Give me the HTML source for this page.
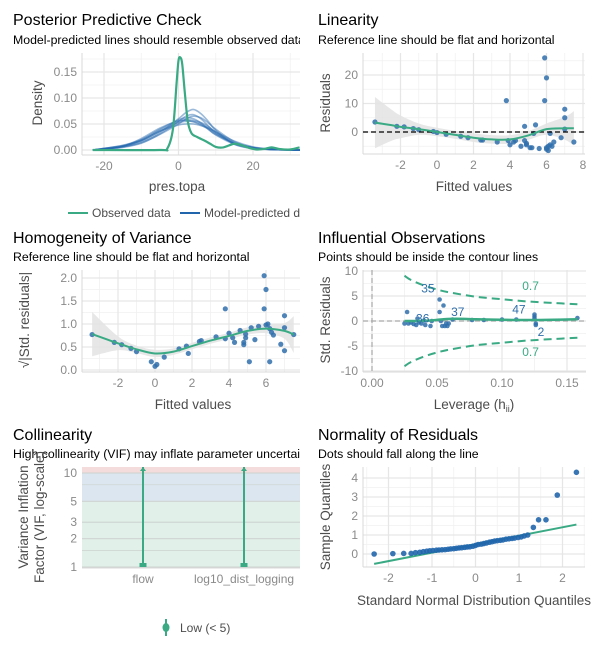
<!DOCTYPE html>
<html><head><meta charset="utf-8">
<style>
html,body{margin:0;padding:0;background:#fff;}
svg{display:block;font-family:"Liberation Sans",Arial,sans-serif;}
.t{font-size:16px;fill:#000;}
.st{font-size:12.3px;fill:#000;}
.tk{font-size:12px;fill:#8a8a8a;}
.at{font-size:13.5px;fill:#4d4d4d;}
.lg{font-size:12px;fill:#4d4d4d;}
</style></head>
<body>
<svg id="root" width="600" height="646" viewBox="0 0 600 646">
<defs>
<clipPath id="cl1"><rect x="0" y="0" width="300" height="646"/></clipPath>
<clipPath id="cp1"><rect x="82" y="53" width="218" height="102"/></clipPath>
<clipPath id="cp2"><rect x="363" y="53" width="222" height="101"/></clipPath>
<clipPath id="cp3"><rect x="82" y="270" width="218" height="102"/></clipPath>
<clipPath id="cp4"><rect x="363" y="270" width="223" height="102"/></clipPath>
<clipPath id="cp5"><rect x="82" y="467" width="218" height="101"/></clipPath>
<clipPath id="cp6"><rect x="363" y="467" width="222" height="100"/></clipPath>
</defs>
<g clip-path="url(#cl1)">
<text class="t" x="13" y="25">Posterior Predictive Check</text>
<text class="st" x="13" y="44">Model-predicted lines should resemble observed data</text>
<text class="t" x="13" y="243">Homogeneity of Variance</text>
<text class="st" x="13" y="261">Reference line should be flat and horizontal</text>
<text class="t" x="13" y="440">Collinearity</text>
<text class="st" x="13" y="458">High collinearity (VIF) may inflate parameter uncertainty</text>
<line x1="68" y1="213" x2="88" y2="213" stroke="#3aaa85" stroke-width="2"/>
<text class="lg" x="92" y="217">Observed data</text>
<line x1="180" y1="213" x2="200" y2="213" stroke="#2166ac" stroke-width="2"/>
<text class="lg" x="204" y="217">Model-predicted data</text>
</g>
<text class="t" x="318" y="25">Linearity</text>
<text class="st" x="318" y="44">Reference line should be flat and horizontal</text>
<text class="t" x="318" y="243">Influential Observations</text>
<text class="st" x="318" y="261">Points should be inside the contour lines</text>
<text class="t" x="318" y="440">Normality of Residuals</text>
<text class="st" x="318" y="458">Dots should fall along the line</text>
<text class="at" x="177" y="191" text-anchor="middle">pres.topa</text>
<text class="at" transform="translate(42,103) rotate(-90)" text-anchor="middle">Density</text>
<text class="at" x="474" y="191" text-anchor="middle">Fitted values</text>
<text class="at" transform="translate(330,103) rotate(-90)" text-anchor="middle">Residuals</text>
<text class="at" x="193" y="409" text-anchor="middle">Fitted values</text>
<text class="at" transform="translate(29,320) rotate(-90)" text-anchor="middle">√|Std. residuals|</text>
<text class="at" x="474" y="409" text-anchor="middle">Leverage (h<tspan font-size="9" dy="3">ii</tspan><tspan dy="-3">)</tspan></text>
<text class="at" transform="translate(330,320) rotate(-90)" text-anchor="middle">Std. Residuals</text>
<text class="at" transform="translate(28,517) rotate(-90)" text-anchor="middle">Variance Inflation</text>
<text class="at" transform="translate(44,517) rotate(-90)" text-anchor="middle">Factor (VIF, log-scale)</text>
<text class="at" x="474" y="605" text-anchor="middle">Standard Normal Distribution Quantiles</text>
<text class="at" transform="translate(330,517) rotate(-90)" text-anchor="middle">Sample Quantiles</text>
<line x1="166" y1="619" x2="166" y2="636" stroke="#3aaa85" stroke-width="2"/>
<ellipse cx="166" cy="627.5" rx="3.5" ry="4.5" fill="#3aaa85"/>
<text class="lg" x="180" y="632">Low (&lt; 5)</text>
<g id="plots"></g>
</svg>
<script>
const ppcObsX = [-23,-5,-3,-1.5,-0.5,0,0.5,1,1.7,2.5,3.5,5,7,8.5,10,12,15,17,19,21,23,25,27,30,32.5];
const ppcObsY = [0,0,0.003,0.04,0.13,0.172,0.178,0.165,0.11,0.055,0.032,0.025,0.018,0.012,0.006,0.005,0.012,0.009,0.004,0.001,0.002,0.005,0.002,0.001,0.005];
const ppcSimX = [-23,-20,-15,-10,-5,0,2,4,6,8,10,15,20,25,30,33];
const ppcSim1 = [0,0.002,0.007,0.018,0.036,0.052,0.055,0.055,0.05,0.042,0.032,0.013,0.004,0.001,0,0];
const ppcSim2 = [0,0.003,0.009,0.02,0.04,0.058,0.062,0.06,0.052,0.04,0.029,0.011,0.003,0.001,0,0];
const ppcSim3 = [0,0.001,0.005,0.013,0.03,0.05,0.06,0.065,0.062,0.052,0.04,0.016,0.005,0.001,0,0];
const ppcSim4 = [0,0.002,0.006,0.016,0.034,0.06,0.072,0.078,0.07,0.055,0.038,0.011,0.003,0.001,0,0];
const ppcSim5 = [0,0.003,0.008,0.018,0.036,0.048,0.05,0.05,0.047,0.042,0.035,0.017,0.006,0.002,0,0];
const ppcSim6 = [0,0.002,0.007,0.022,0.042,0.056,0.057,0.054,0.048,0.04,0.03,0.013,0.005,0.001,0,0];
const ppcSim7 = [0,0.002,0.006,0.014,0.031,0.055,0.065,0.068,0.06,0.046,0.033,0.012,0.004,0.001,0,0];
const ppcSim8 = [0,0.003,0.008,0.019,0.038,0.054,0.058,0.057,0.053,0.045,0.035,0.014,0.004,0.001,0,0];
const ppcXTicks = [-20,0,20];
const ppcYTicks = [0,0.05,0.10,0.15];
const ppcYLabels = ["0.00","0.05","0.10","0.15"];
const linX = [-3.4,-2.2,-1.8,-1.3,-1,-0.2,0,0.5,1.3,1.7,2.4,2.5,3.3,3.8,3.9,4,4.2,4.3,4.6,4.8,4.8,4.9,4.9,5.1,5.2,5.3,5.4,5.6,5.9,5.9,6,6,6,6.1,6.1,6.2,6.2,6.3,6.4,6.8,7,7,7,7.5];
const linY = [3.5,2,1.8,1.2,0.8,0.2,-0.2,-0.8,-1.5,-2,-2.8,-2.8,-3.5,11,-3,-4.5,-3.5,-3,-5,2,-3,-4,-4.5,-5.5,-5.5,-0.5,2.5,-5.8,26,11,19,-5.5,-6,-6.5,-5,-4.5,-0.5,-5,-3.5,-2,8,5,1,-3.5];
const linSmX = [-3.4,-2.5,-2,-1,0,1,2,3,4,5,6,7,7.5];
const linSmY = [3.3,2.4,1.8,1,0,-1,-2,-2.6,-2.6,-1.2,1,1.3,1.3];
const linSmSe = [9,5.5,4,2,1.5,1.4,1.5,1.5,1.5,1.5,2,4,6];
const linXTicks = [-2,0,2,4,6,8];
const linYTicks = [0,10,20];
const homX = [-3.4,-2.2,-1.8,-1.3,-1,-0.2,0,0.1,0.5,1.3,1.7,1.8,2.4,2.5,3.3,3.8,3.8,4,4.2,4.3,4.6,4.8,4.8,4.9,4.9,5.1,5.2,5.4,5.6,5.9,5.9,6,6,6.1,6.2,6.2,6.3,6.4,6.8,7,7,7,7.5];
const homY = [0.77,0.6,0.55,0.47,0.4,0.18,0.08,0.12,0.28,0.46,0.52,0.36,0.62,0.64,0.72,1.33,0.68,0.8,0.7,0.6,0.86,0.55,0.6,0.7,0.78,0.18,0.92,0.66,0.95,2.05,1.33,1.75,0.98,1.0,0.9,0.18,0.82,0.76,0.56,1.18,0.92,0.42,0.77];
const homSmX = [-3.4,-2,-1,0,1,2,3,4,5,6,7,7.5];
const homSmY = [0.78,0.58,0.45,0.36,0.4,0.52,0.64,0.74,0.85,0.9,0.85,0.77];
const homSmSe = [0.48,0.15,0.08,0.08,0.07,0.07,0.07,0.07,0.08,0.1,0.17,0.4];
const homXTicks = [-2,0,2,4,6];
const homYTicks = [0,0.5,1,1.5,2];
const homYLabels = ["0.0","0.5","1.0","1.5","2.0"];
const infH = [0.025,0.027,0.028,0.03,0.032,0.034,0.035,0.036,0.038,0.04,0.041,0.045,0.046,0.052,0.052,0.053,0.054,0.055,0.056,0.057,0.058,0.059,0.062,0.077,0.086,0.10,0.111,0.125,0.125,0.125,0.126,0.126,0.158];
const infR = [-0.5,1.8,-0.5,-0.3,-0.6,-0.8,0.5,-0.3,-0.5,0.1,-0.8,-1,0,4.3,1.8,0,-1,3.1,-1,-0.5,-1,-0.5,0.3,0.2,0.2,0.3,0.3,1.3,0.9,0.5,-0.5,-0.8,0.6];
const infLabH = [0.043,0.039,0.066,0.113,0.130];
const infLabR = [6.5,0.5,1.8,2.3,-2.2];
const infLabT = ["35","36","37","47","2"];
const infCookH = [0.025,0.03,0.04,0.05,0.06,0.08,0.1,0.12,0.14,0.158];
const infCookR = [9.05,8.2,7.1,6.3,5.7,4.85,4.35,3.9,3.6,3.35];
const infSmH = [0.025,0.035,0.045,0.055,0.065,0.08,0.1,0.12,0.14,0.158];
const infSmR = [0,0,0.1,0.35,0.45,0.35,0.25,0.2,0.25,0.35];
const infXTicks = [0,0.05,0.10,0.15];
const infXLabels = ["0.00","0.05","0.10","0.15"];
const infYTicks = [-10,-5,0,5,10];
const colCats = ["flow","log10_dist_logging"];
const colVif = [1.0,1.0];
const colVifHi = [12,12];
const colYTicks = [1,2,3,5,10];
const qqX = [-2.33,-1.9,-1.65,-1.48,-1.38,-1.28,-1.2,-1.12,-1.05,-0.98,-0.9,-0.84,-0.77,-0.7,-0.63,-0.57,-0.5,-0.44,-0.38,-0.32,-0.25,-0.19,-0.13,-0.06,0,0.06,0.13,0.19,0.25,0.32,0.38,0.44,0.5,0.57,0.63,0.7,0.77,0.84,0.9,0.98,1.05,1.12,1.2,1.33,1.45,1.62,1.88,2.32];
const qqY = [0.0,0.02,0.03,0.03,0.07,0.09,0.12,0.15,0.17,0.18,0.2,0.21,0.22,0.23,0.25,0.27,0.28,0.3,0.32,0.33,0.35,0.37,0.38,0.41,0.45,0.5,0.52,0.55,0.58,0.62,0.65,0.68,0.7,0.72,0.74,0.78,0.8,0.82,0.84,0.87,0.9,0.95,1.0,1.4,1.8,1.8,3.1,4.3];
const qqLineX = [-2.33,2.32];
const qqLineY = [-0.52,1.55];
const qqXTicks = [-2,-1,0,1,2];
const qqYTicks = [0,1,2,3,4];

const NS = "http://www.w3.org/2000/svg";
const root = document.getElementById("plots");
function el(tag, attrs, name, parent) {
  const e = document.createElementNS(NS, tag);
  for (const k in attrs) e.setAttribute(k, attrs[k]);
  
  
  (parent || root).appendChild(e);
  return e;
}
function lin(d0, d1, r0, r1) { return v => r0 + (v - d0) / (d1 - d0) * (r1 - r0); }
function curve(pts) {
  let d = "";
  for (let i = 0; i < pts.length - 1; i++) {
    const p0 = pts[i - 1] || pts[i], p1 = pts[i], p2 = pts[i + 1], p3 = pts[i + 2] || p2;
    const c1 = [p1[0] + (p2[0] - p0[0]) / 6, p1[1] + (p2[1] - p0[1]) / 6];
    const c2 = [p2[0] - (p3[0] - p1[0]) / 6, p2[1] - (p3[1] - p1[1]) / 6];
    d += " C" + c1.join(",") + " " + c2.join(",") + " " + p2.join(",");
  }
  return d;
}
function smooth(pts) { return "M" + pts[0].join(",") + curve(pts); }
function frame(b, xs, ys, xTicks, yTicks, xLabels, yLabels, key, xMinor, yMinor) {
  const g = el("g", {}, key + "-grid");
  (xMinor || []).forEach(v => el("line", {x1: xs(v), x2: xs(v), y1: b.y, y2: b.y + b.h, stroke: "#f0f0f0", "stroke-width": 0.8}, key + "-minor-gridline-x", g));
  (yMinor || []).forEach(v => el("line", {x1: b.x, x2: b.x + b.w, y1: ys(v), y2: ys(v), stroke: "#f0f0f0", "stroke-width": 0.8}, key + "-minor-gridline-y", g));
  xTicks.forEach(v => el("line", {x1: xs(v), x2: xs(v), y1: b.y, y2: b.y + b.h, stroke: "#e6e6e6", "stroke-width": 1.2}, key + "-gridline-x", g));
  yTicks.forEach(v => el("line", {x1: b.x, x2: b.x + b.w, y1: ys(v), y2: ys(v), stroke: "#e6e6e6", "stroke-width": 1.2}, key + "-gridline-y", g));
  el("line", {x1: b.x, x2: b.x, y1: b.y, y2: b.y + b.h, stroke: "#d9d9d9", "stroke-width": 1}, key + "-y-axis-line", g);
  el("line", {x1: b.x, x2: b.x + b.w, y1: b.y + b.h, y2: b.y + b.h, stroke: "#d9d9d9", "stroke-width": 1}, key + "-x-axis-line", g);
  xTicks.forEach((v, i) => { const t = el("text", {x: xs(v), y: b.y + b.h + 15, "text-anchor": "middle", class: "tk"}, key + "-x-tick-label", g); t.textContent = xLabels ? xLabels[i] : String(v); });
  yTicks.forEach((v, i) => { const t = el("text", {x: b.x - 5, y: ys(v) + 4, "text-anchor": "end", class: "tk"}, key + "-y-tick-label", g); t.textContent = yLabels ? yLabels[i] : String(v); });
}
function band(xs, ys, X, Y, S, clip, name) {
  const up = X.map((v, i) => [xs(v), ys(Y[i] + S[i])]);
  const lo = X.map((v, i) => [xs(v), ys(Y[i] - S[i])]).reverse();
  el("path", {d: smooth(up) + " L" + lo[0].join(",") + curve(lo) + " Z", fill: "#e3e3e3", opacity: 0.85, "clip-path": clip}, name);
}
const GREEN = "#3aaa85", BLUE = "#2f6fab";

{
  const b = {x: 82, y: 53, w: 218, h: 102};
  const xs = lin(-20, 20, 104, 253), ys = lin(0, 0.15, 150, 72);
  frame(b, xs, ys, ppcXTicks, ppcYTicks, null, ppcYLabels, "ppc", [-10, 10, 30], [0.025, 0.075, 0.125, 0.175]);
  [ppcSim1, ppcSim2, ppcSim3, ppcSim4, ppcSim5, ppcSim6, ppcSim7, ppcSim8].forEach(s => {
    el("path", {d: smooth(ppcSimX.map((v, i) => [xs(v), ys(s[i])])), fill: "none", stroke: "#2166ac", "stroke-width": 1.6, opacity: 0.45, "clip-path": "url(#cp1)"}, "ppc-model-predicted-line");
  });
  el("path", {d: smooth(ppcObsX.map((v, i) => [xs(v), ys(ppcObsY[i])])), fill: "none", stroke: GREEN, "stroke-width": 2.2, "clip-path": "url(#cp1)"}, "ppc-observed-line");
}
{
  const b = {x: 363, y: 53, w: 222, h: 101};
  const xs = lin(0, 2, 437, 473.5), ys = lin(0, 10, 132, 103.5);
  frame(b, xs, ys, linXTicks, linYTicks, null, null, "linearity", [-3, -1, 1, 3, 5, 7], [-5, 5, 15, 25]);
  band(xs, ys, linSmX, linSmY, linSmSe, "url(#cp2)", "linearity-ci-band");
  linX.forEach((v, i) => el("circle", {cx: xs(v), cy: ys(linY[i]), r: 2.6, fill: BLUE, opacity: 0.85}, "linearity-point"));
  el("line", {x1: b.x, x2: b.x + b.w, y1: ys(0), y2: ys(0), stroke: "#000", "stroke-width": 1.2, "stroke-dasharray": "5,3"}, "linearity-reference-line");
  el("path", {d: smooth(linSmX.map((v, i) => [xs(v), ys(linSmY[i])])), fill: "none", stroke: GREEN, "stroke-width": 2}, "linearity-smooth-line");
}
{
  const b = {x: 82, y: 270, w: 218, h: 102};
  const xs = lin(0, 2, 155, 192), ys = lin(0, 2, 370, 278);
  frame(b, xs, ys, homXTicks, homYTicks, null, homYLabels, "homogeneity", [-3, -1, 1, 3, 5, 7], [0.25, 0.75, 1.25, 1.75]);
  band(xs, ys, homSmX, homSmY, homSmSe, "url(#cp3)", "homogeneity-ci-band");
  homX.forEach((v, i) => el("circle", {cx: xs(v), cy: ys(homY[i]), r: 2.6, fill: BLUE, opacity: 0.85}, "homogeneity-point"));
  el("path", {d: smooth(homSmX.map((v, i) => [xs(v), ys(homSmY[i])])), fill: "none", stroke: GREEN, "stroke-width": 2}, "homogeneity-smooth-line");
}
{
  const b = {x: 363, y: 270, w: 223, h: 102};
  const xs = lin(0, 0.15, 372, 567), ys = lin(-10, 10, 371, 271);
  frame(b, xs, ys, infXTicks, infYTicks, infXLabels, null, "influential", [0.025, 0.075, 0.125], [-7.5, -2.5, 2.5, 7.5]);
  el("line", {x1: xs(0), x2: xs(0), y1: b.y, y2: b.y + b.h, stroke: "#aaa", "stroke-width": 1.2, "stroke-dasharray": "5,3"}, "influential-vertical-reference");
  el("line", {x1: b.x, x2: b.x + b.w, y1: ys(0), y2: ys(0), stroke: "#aaa", "stroke-width": 1.2, "stroke-dasharray": "5,3"}, "influential-horizontal-reference");
  el("path", {d: smooth(infCookH.map((v, i) => [xs(v), ys(infCookR[i])])), fill: "none", stroke: GREEN, "stroke-width": 2, "stroke-dasharray": "8,5"}, "cook-contour-upper");
  el("path", {d: smooth(infCookH.map((v, i) => [xs(v), ys(-infCookR[i])])), fill: "none", stroke: GREEN, "stroke-width": 2, "stroke-dasharray": "8,5"}, "cook-contour-lower");
  const t1 = el("text", {x: xs(0.122), y: ys(6.2), "text-anchor": "middle", class: "tk", style: "fill:" + GREEN}, "cook-label-upper"); t1.textContent = "0.7";
  const t2 = el("text", {x: xs(0.122), y: ys(-6.2) + 4, "text-anchor": "middle", class: "tk", style: "fill:" + GREEN}, "cook-label-lower"); t2.textContent = "0.7";
  infH.forEach((v, i) => el("circle", {cx: xs(v), cy: ys(infR[i]), r: 2.3, fill: BLUE, opacity: 0.85}, "influential-point"));
  el("path", {d: smooth(infSmH.map((v, i) => [xs(v), ys(infSmR[i])])), fill: "none", stroke: GREEN, "stroke-width": 2.5}, "influential-smooth-line");
  infLabT.forEach((s, i) => { const t = el("text", {x: xs(infLabH[i]), y: ys(infLabR[i]) + 4, "text-anchor": "middle", class: "tk", style: "fill:" + BLUE}, "influential-point-label"); t.textContent = s; });
}
{
  const b = {x: 82, y: 467, w: 218, h: 101};
  const ys = v => 567 - Math.log10(v) * 94;
  const xs = i => [143, 244][i];
  el("rect", {x: b.x, y: ys(5), width: b.w, height: ys(1) - ys(5), fill: "#e1f1e9"}, "collinearity-low-zone");
  el("rect", {x: b.x, y: ys(10), width: b.w, height: ys(5) - ys(10), fill: "#dce6f0"}, "collinearity-moderate-zone");
  el("rect", {x: b.x, y: b.y, width: b.w, height: ys(10) - b.y, fill: "#f5dcdc"}, "collinearity-high-zone");
  [1.5, 7.5].forEach(v => el("line", {x1: b.x, x2: b.x + b.w, y1: ys(v), y2: ys(v), stroke: "#cfd6d3", "stroke-width": 0.8}, "collinearity-minor-gridline"));
  colYTicks.forEach(v => {
    el("line", {x1: b.x, x2: b.x + b.w, y1: ys(v), y2: ys(v), stroke: "#cdd3d1", "stroke-width": 1.1}, "collinearity-gridline");
    const t = el("text", {x: b.x - 5, y: ys(v) + 4, "text-anchor": "end", class: "tk"}, "collinearity-y-tick-label"); t.textContent = String(v);
  });
  el("line", {x1: b.x, x2: b.x + b.w, y1: b.y + b.h, y2: b.y + b.h, stroke: "#d9d9d9"}, "collinearity-x-axis-line");
  colCats.forEach((c, i) => {
    el("line", {x1: xs(i), x2: xs(i), y1: ys(colVif[i]), y2: Math.max(b.y, ys(colVifHi[i])), stroke: GREEN, "stroke-width": 2}, "collinearity-ci-" + c);
    el("rect", {x: xs(i) - 3.5, y: ys(colVif[i]) - 4, width: 7, height: 4, fill: GREEN}, "collinearity-point-" + c);
    el("path", {d: "M" + (xs(i) - 3) + "," + (b.y + 4) + " L" + xs(i) + "," + b.y + " L" + (xs(i) + 3) + "," + (b.y + 4) + "Z", fill: GREEN}, "collinearity-cap-" + c);
    const t = el("text", {x: xs(i), y: 583, "text-anchor": "middle", class: "tk"}, "collinearity-x-tick-label"); t.textContent = c;
  });
}
{
  const b = {x: 363, y: 467, w: 222, h: 100};
  const xs = lin(0, 1, 475.5, 519), ys = lin(0, 4, 554, 478);
  frame(b, xs, ys, qqXTicks, qqYTicks, null, null, "normality", [-2.5, -1.5, -0.5, 0.5, 1.5, 2.5], [0.5, 1.5, 2.5, 3.5]);
  el("line", {x1: xs(qqLineX[0]), y1: ys(qqLineY[0]), x2: xs(qqLineX[1]), y2: ys(qqLineY[1]), stroke: GREEN, "stroke-width": 2}, "normality-reference-line");
  qqX.forEach((v, i) => el("circle", {cx: xs(v), cy: ys(qqY[i]), r: 2.8, fill: "#2166ac", opacity: 0.9}, "normality-point"));
}
</script>
</body></html>
